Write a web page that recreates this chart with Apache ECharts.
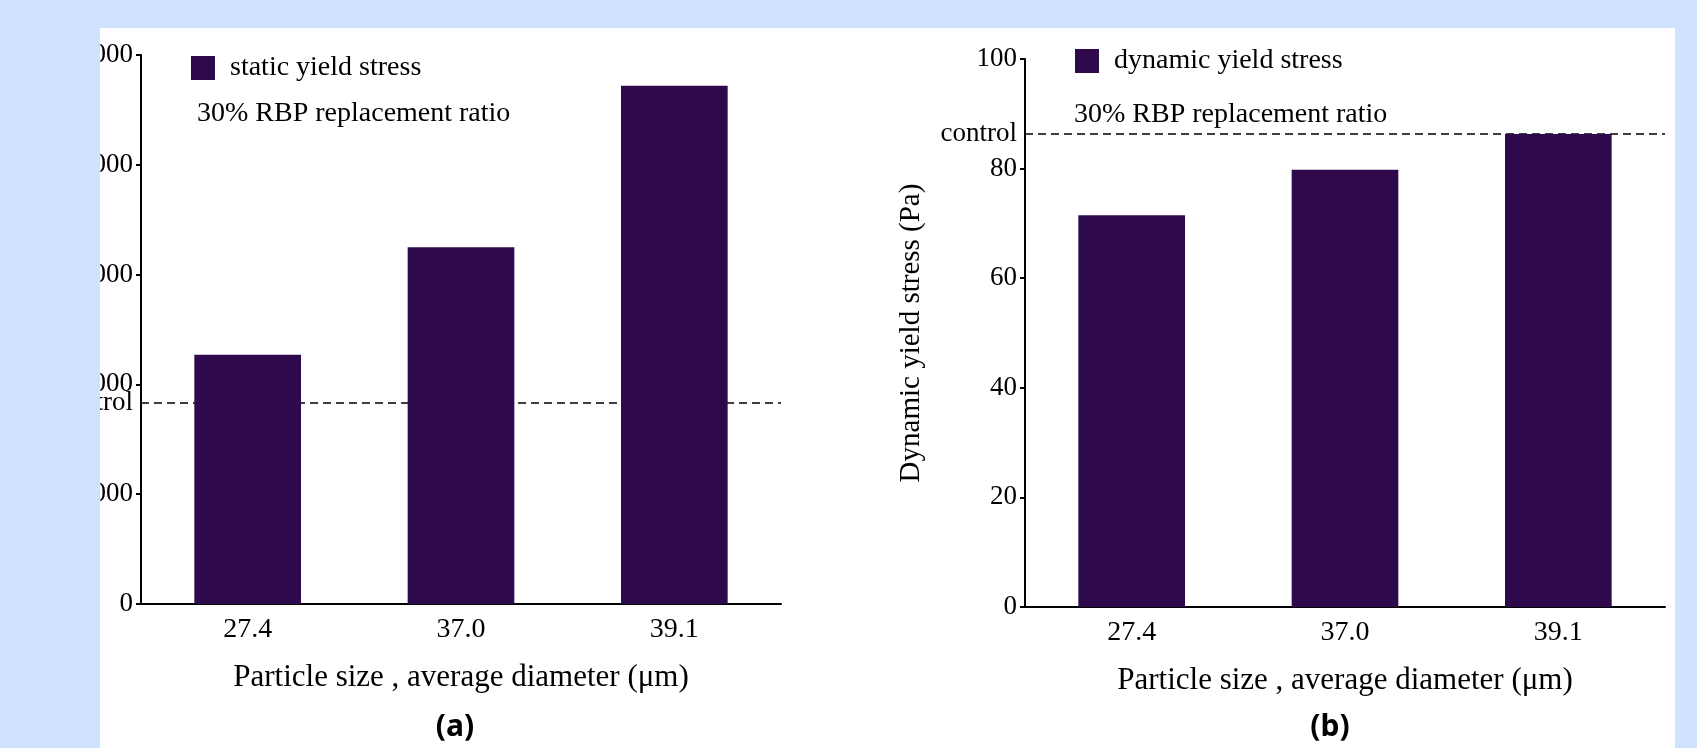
<!DOCTYPE html>
<html>
<head>
<meta charset="utf-8">
<script src="https://cdn.jsdelivr.net/npm/echarts@6/dist/echarts.min.js"></script>
<style>
  html, body { margin: 0; padding: 0; background: #d0e3fe; }
  #chart { width: 1697px; height: 748px; }
</style>
</head>
<body>
<div id="chart"></div>
<script>
// ---- data ----
const categories = ['27.4', '37.0', '39.1'];
const staticYield = [2270, 3250, 4720];
const staticControl = 1830;
const dynamicYield = [71.5, 79.8, 86.3];
const dynamicControl = 86.4;
const staticTicks = { min: 0, max: 5000, interval: 1000 };
const dynamicTicks = { min: 0, max: 100, interval: 20 };

const SERIF = '"Liberation Serif", "Times New Roman", serif';
const BAR = '#2e0a4c';
const BLUE = '#d0e3fe';

const chart = echarts.init(document.getElementById('chart'), null, { renderer: 'canvas' });

function xAxisDef(gridIndex) {
  return {
    type: 'category', gridIndex, data: categories,
    axisLine: { lineStyle: { color: '#000', width: 2 } },
    axisTick: { alignWithLabel: true, length: 6, lineStyle: { color: '#000', width: 2 } },
    axisLabel: { color: '#000', fontFamily: SERIF, fontSize: 28, margin: 12 },
    name: 'Particle size , average diameter (\u03bcm)',
    nameLocation: 'middle', nameGap: 58,
    nameTextStyle: { color: '#000', fontFamily: SERIF, fontSize: 31 }
  };
}
function yAxisDef(gridIndex, t, name) {
  return {
    type: 'value', gridIndex, min: t.min, max: t.max, interval: t.interval,
    splitLine: { show: false },
    axisLine: { show: true, lineStyle: { color: '#000', width: 2 } },
    axisTick: { show: true, length: 5, lineStyle: { color: '#000', width: 2 } },
    axisLabel: { color: '#000', fontFamily: SERIF, fontSize: 27, margin: 8 },
    name: name, nameLocation: 'middle', nameGap: 99, nameRotate: 90,
    nameTextStyle: { color: '#000', fontFamily: SERIF, fontSize: 29 }
  };
}
function barSeries(name, idx, data, control) {
  return {
    name, type: 'bar', xAxisIndex: idx, yAxisIndex: idx, data,
    barWidth: '50%', itemStyle: { color: BAR }, z: 3,
    markLine: {
      z: 1, silent: true, symbol: 'none', animation: false,
      lineStyle: { color: '#000', type: [8, 5], width: 1.6 },
      label: { show: true, position: 'start', formatter: 'control', color: '#000',
               fontFamily: SERIF, fontSize: 27, distance: 8 },
      data: [{ yAxis: control }]
    }
  };
}

const option = {
  backgroundColor: BLUE,
  animation: false,
  grid: [
    { left: 141, width: 640, top: 55, bottom: 144 },
    { left: 1025, width: 640, top: 59, bottom: 141 }
  ],
  xAxis: [xAxisDef(0), xAxisDef(1)],
  yAxis: [yAxisDef(0, staticTicks, 'Static yield stress (Pa)'), yAxisDef(1, dynamicTicks, 'Dynamic yield stress (Pa)')],
  legend: [
    { data: ['static yield stress'], left: 191, top: 54, padding: 0, icon: 'rect', itemWidth: 24, itemHeight: 24,
      textStyle: { color: '#000', fontFamily: SERIF, fontSize: 28, padding: [0, 0, 0, 10] } },
    { data: ['dynamic yield stress'], left: 1075, top: 47, padding: 0, icon: 'rect', itemWidth: 24, itemHeight: 24,
      textStyle: { color: '#000', fontFamily: SERIF, fontSize: 28, padding: [0, 0, 0, 10] } }
  ],
  title: [
    { text: '30% RBP replacement ratio', left: 192, top: 95,
      textStyle: { color: '#000', fontFamily: SERIF, fontSize: 28, fontWeight: 'normal' } },
    { text: '30% RBP replacement ratio', left: 1069, top: 96,
      textStyle: { color: '#000', fontFamily: SERIF, fontSize: 28, fontWeight: 'normal' } }
  ],
  series: [
    barSeries('static yield stress', 0, staticYield, staticControl),
    barSeries('dynamic yield stress', 1, dynamicYield, dynamicControl)
  ],
  graphic: [
    { type: 'rect', z: -100, silent: true, shape: { x: 100, y: 28, width: 1575, height: 720 }, style: { fill: '#fff' } },
    { type: 'rect', z: 100, silent: true, shape: { x: 0, y: 0, width: 100, height: 748 }, style: { fill: BLUE } },
    { type: 'rect', z: 100, silent: true, shape: { x: 0, y: 0, width: 1697, height: 28 }, style: { fill: BLUE } },
    { type: 'rect', z: 100, silent: true, shape: { x: 1675, y: 0, width: 22, height: 748 }, style: { fill: BLUE } },
    { type: 'text', z: 100, x: 455, y: 727, style: { text: '(a)', fill: '#000', font: 'bold 30px "Noto Sans", sans-serif', align: 'center', verticalAlign: 'middle' } },
    { type: 'text', z: 100, x: 1330, y: 727, style: { text: '(b)', fill: '#000', font: 'bold 30px "Noto Sans", sans-serif', align: 'center', verticalAlign: 'middle' } }
  ]
};
chart.setOption(option);
</script>
</body>
</html>
